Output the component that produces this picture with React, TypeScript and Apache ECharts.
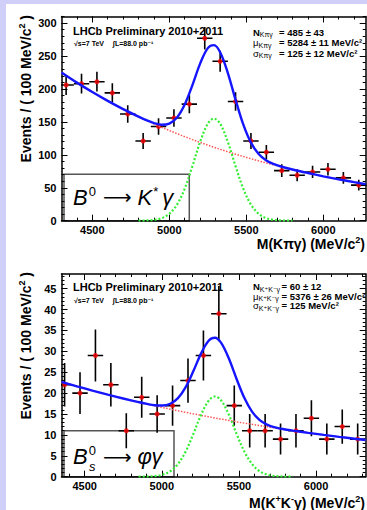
import React, { useEffect, useRef } from 'react';
import * as echarts from 'echarts';

const FF = '"Liberation Sans", Arial, Helvetica, "DejaVu Sans", sans-serif';

// ---------- Top panel: B0 -> K* gamma ----------
const topBinCenters = [4330, 4430, 4530, 4630, 4730, 4830, 4930, 5030, 5130, 5230, 5330, 5430, 5530, 5630, 5730, 5830, 5930, 6030, 6130, 6230];
const topCounts = [206, 208, 211, 194, 162, 121, 143, 156, 177, 277, 242, 181, 121, 104, 76, 69, 74, 78, 65, 54];
const topErrors = [15, 15, 15, 14.5, 13.3, 12, 12.7, 13.2, 14, 17, 16, 14, 12, 10.8, 9.6, 9, 9.3, 9.5, 9, 8.3];
const topCurveX = [4300, 4400, 4500, 4600, 4700, 4800, 4850, 4900, 4950, 5000, 5050, 5100, 5150, 5200, 5250, 5290, 5330, 5380, 5430, 5480, 5530, 5580, 5630, 5680, 5730, 5800, 5900, 6000, 6100, 6200, 6275];
const topBkg = [225, 209.6, 195.3, 181.9, 169.4, 157.8, 152.3, 147.0, 141.9, 137.0, 132.2, 127.6, 123.1, 118.9, 114.7, 111.5, 108.4, 104.6, 101.0, 97.5, 94.1, 90.8, 87.6, 84.6, 81.6, 77.7, 72.4, 67.4, 62.8, 58.5, 55.5];
const topSig = [null, null, null, null, null, 0.1, 0.3, 1.2, 3.8, 10.5, 24.5, 48.8, 82.8, 119.6, 147.3, 155, 147.3, 119.6, 82.8, 48.8, 24.5, 10.5, 3.8, 1.2, 0.3, 0, null, null, null, null, null];
const topTotal = [225, 209.6, 195.3, 181.9, 169.4, 157.9, 152.6, 148.2, 145.7, 147.5, 156.7, 176.4, 205.9, 238.5, 262.0, 266.5, 255.7, 224.2, 183.8, 146.3, 118.6, 101.3, 91.4, 85.8, 81.9, 77.7, 72.4, 67.4, 62.8, 58.5, 55.5];
const topXRange = [4300, 6275];
const topYMax = 310;
const topXMajor = [4500, 5000, 5500, 6000];
const topXMinor = [4400, 4500, 4600, 4700, 4800, 4900, 5000, 5100, 5200, 5300, 5400, 5500, 5600, 5700, 5800, 5900, 6000, 6100, 6200];
const topYMajor = [0, 50, 100, 150, 200, 250, 300];
const topYMinor = [10, 20, 30, 40, 50, 60, 70, 80, 90, 100, 110, 120, 130, 140, 150, 160, 170, 180, 190, 200, 210, 220, 230, 240, 250, 260, 270, 280, 290, 300, 310];

// ---------- Bottom panel: Bs -> phi gamma ----------
const botBinCenters = [4370, 4470, 4570, 4670, 4770, 4870, 4970, 5070, 5170, 5270, 5370, 5470, 5570, 5670, 5770, 5870, 5970, 6070, 6170, 6270];
const botCounts = [22, 20, 29, 22, 11, 19, 15, 17, 23, 29, 39, 17, 11, 11, 9, 11, 14, 9, 12, 9];
const botErrors = [5.2, 5, 6.2, 5.2, 4.2, 4.9, 4.5, 4.8, 5.3, 6, 6.6, 4.8, 4, 4, 3.7, 4, 4.3, 3.7, 4.1, 3.7];
const botCurveX = [4350, 4450, 4550, 4650, 4750, 4850, 4905, 4955, 5005, 5055, 5105, 5155, 5205, 5255, 5305, 5345, 5385, 5435, 5485, 5535, 5585, 5635, 5685, 5735, 5785, 5850, 5950, 6050, 6150, 6250, 6322];
const botBkg = [22.70, 21.63, 20.61, 19.64, 18.72, 17.84, 17.37, 16.96, 16.56, 16.16, 15.77, 15.40, 15.03, 14.68, 14.33, 14.05, 13.78, 13.46, 13.13, 12.82, 12.52, 12.22, 11.93, 11.64, 11.37, 11.02, 10.50, 10.00, 9.53, 9.09, 8.78];
const botSig = [null, null, null, null, null, 0.01, 0.04, 0.15, 0.48, 1.30, 3.04, 6.05, 10.25, 14.82, 18.24, 19.2, 18.24, 14.82, 10.25, 6.05, 3.04, 1.30, 0.48, 0.15, 0.04, 0.01, null, null, null, null, null];
const botTotal = [22.70, 21.63, 20.61, 19.64, 18.72, 17.85, 17.41, 17.11, 17.04, 17.46, 18.81, 21.45, 25.28, 29.50, 32.57, 33.25, 32.02, 28.28, 23.38, 18.87, 15.56, 13.52, 12.41, 11.79, 11.41, 11.03, 10.50, 10.00, 9.53, 9.09, 8.78];
const botXRange = [4350, 6322];
const botYMax = 48.5;
const botXMajor = [4500, 5000, 5500, 6000];
const botXMinor = [4400, 4500, 4600, 4700, 4800, 4900, 5000, 5100, 5200, 5300, 5400, 5500, 5600, 5700, 5800, 5900, 6000, 6100, 6200, 6300];
const botYMajor = [0, 5, 10, 15, 20, 25, 30, 35, 40, 45];
const botYMinor = [1, 2, 3, 4, 5, 6, 7, 8, 9, 10, 11, 12, 13, 14, 15, 16, 17, 18, 19, 20, 21, 22, 23, 24, 25, 26, 27, 28, 29, 30, 31, 32, 33, 34, 35, 36, 37, 38, 39, 40, 41, 42, 43, 44, 45, 46, 47, 48];

const binHalfWidth = 50;

const tok = (fontSize: number, fontWeight = 'bold', fontStyle = 'normal', extra: any = {}) => ({
  fontSize, fontWeight, fontStyle, fontFamily: FF, fill: '#000', ...extra,
});

const labelStyle = (vals: number[], margin: number) => ({
  show: true, customValues: vals, margin, color: '#000', fontSize: 11, fontWeight: 'bold', fontFamily: FF,
  formatter: (v: number) => String(v),
});

function xAxes(grid: number, range: number[], major: number[], minor: number[]) {
  const base: any = { type: 'value', gridIndex: grid, min: range[0], max: range[1], splitLine: { show: false } };
  const line = { show: true, onZero: false, lineStyle: { color: '#000', width: 1.5 } };
  const noLine = { show: false, onZero: false };
  const tk = (vals: number[], len: number) => ({ show: true, inside: true, length: len, customValues: vals, lineStyle: { color: '#000', width: 1 } });
  return [
    { ...base, position: 'bottom', axisLine: line, axisTick: tk(major, 6), axisLabel: labelStyle(major, 4) },
    { ...base, position: 'bottom', axisLine: noLine, axisTick: tk(minor, 3), axisLabel: { show: false } },
    { ...base, position: 'top', axisLine: line, axisTick: tk(major, 6), axisLabel: { show: false } },
    { ...base, position: 'top', axisLine: noLine, axisTick: tk(minor, 3), axisLabel: { show: false } },
  ];
}

function yAxes(grid: number, max: number, major: number[], minor: number[]) {
  const base: any = { type: 'value', gridIndex: grid, min: 0, max, splitLine: { show: false } };
  const line = { show: true, onZero: false, lineStyle: { color: '#000', width: 1.5 } };
  const noLine = { show: false, onZero: false };
  const tk = (vals: number[], len: number) => ({ show: true, inside: true, length: len, customValues: vals, lineStyle: { color: '#000', width: 1 } });
  return [
    { ...base, position: 'left', axisLine: line, axisTick: tk(major, 6), axisLabel: labelStyle(major, 5) },
    { ...base, position: 'left', axisLine: noLine, axisTick: tk(minor, 3), axisLabel: { show: false } },
    { ...base, position: 'right', axisLine: line, axisTick: tk(major, 6), axisLabel: { show: false } },
    { ...base, position: 'right', axisLine: noLine, axisTick: tk(minor, 3), axisLabel: { show: false } },
  ];
}

function curve(axis: number, xs: number[], ys: (number | null)[], color: string, width: number, type: any) {
  return {
    type: 'line', xAxisIndex: axis, yAxisIndex: axis, silent: true, clip: true,
    data: xs.map((x, i) => [x, ys[i]]).filter((p) => p[1] !== null),
    showSymbol: false, symbol: 'none', smooth: 0.35,
    lineStyle: { color, width, type },
  };
}

function errorBars(axis: number, centers: number[], counts: number[], errs: number[]) {
  return {
    type: 'custom', xAxisIndex: axis, yAxisIndex: axis, silent: true, clip: true,
    data: centers.map((c, i) => [c, counts[i], errs[i]]),
    encode: { x: 0, y: 1 },
    renderItem: (_p: any, api: any) => {
      const x = api.value(0), y = api.value(1), e = api.value(2);
      const l = api.coord([x - binHalfWidth, y]);
      const r = api.coord([x + binHalfWidth, y]);
      const t = api.coord([x, y + e]);
      const b = api.coord([x, y - e]);
      const style = { stroke: '#000', lineWidth: 1.6 };
      return {
        type: 'group',
        children: [
          { type: 'line', shape: { x1: l[0], y1: l[1], x2: r[0], y2: r[1] }, style },
          { type: 'line', shape: { x1: t[0], y1: t[1], x2: b[0], y2: b[1] }, style },
        ],
      };
    },
  };
}

function points(axis: number, centers: number[], counts: number[]) {
  return {
    type: 'scatter', xAxisIndex: axis, yAxisIndex: axis, silent: true, clip: true,
    symbol: 'circle', symbolSize: 5, itemStyle: { color: '#ff0000' },
    data: centers.map((c, i) => [c, counts[i]]),
  };
}

function text(x: number, y: number, t: string, rich: any, extra: any = {}) {
  return { type: 'text', x, y, silent: true, style: { text: t, rich, align: 'left', verticalAlign: 'middle', ...extra } };
}

const plain = (x: number, y: number, t: string, size: number, weight = 'bold') =>
  ({ type: 'text', x, y, silent: true, style: { text: t, ...tok(size, weight), align: 'left', verticalAlign: 'middle' } });

const paramRich = {
  m: tok(9.5, 'bold', 'normal', { lineHeight: 12 }),
  g: tok(9.5, 'normal', 'normal', { lineHeight: 12 }),
  s: tok(7, 'normal', 'normal', { lineHeight: 7, verticalAlign: 'bottom' }),
};

const titleRich = {
  t: tok(14, 'bold', 'normal', { lineHeight: 16 }),
  p: tok(9, 'bold', 'normal', { lineHeight: 9, verticalAlign: 'top' }),
};

const decayRich = (size: number) => ({
  b: tok(size, 'normal', 'italic', { lineHeight: size + 3 }),
  sp: tok(13, 'normal', 'normal', { lineHeight: 11, verticalAlign: 'top', padding: [0, 1, 0, 1] }),
  a: { fontSize: size - 2, fontFamily: '"DejaVu Sans", sans-serif', fill: '#000', lineHeight: size + 3, padding: [0, 6, 0, 6] },
  g: tok(size, 'normal', 'italic', { lineHeight: size + 3, padding: [0, 0, 0, 3] }),
});

function graphics() {
  return [
    // Top panel
    { type: 'text', x: 25.5, y: 15, rotation: Math.PI / 2, silent: true,
      style: { text: '{t|Events / ( 100 MeV/c}{p|2}{t| )}', rich: titleRich, align: 'right', verticalAlign: 'middle' } },
    text(365, 243.5, '{t|M(Kπγ) (MeV/c}{p|2}{t|)}', titleRich, { align: 'right' }),
    plain(73, 31, 'LHCb Preliminary 2010+2011', 11),
    plain(74, 43.5, '√s=7 TeV', 7),
    plain(113, 43.5, '∫L=88.0 pb⁻¹', 7),
    text(253, 32, '{m|N}{s|Kπγ}', paramRich),
    plain(279, 32, '= 485 ± 43', 9.5),
    text(253, 42.5, '{g|μ}{s|Kπγ}', paramRich),
    plain(279, 42.5, '= 5284 ± 11 MeV/c²', 9.5),
    text(253, 53, '{g|σ}{s|Kπγ}', paramRich),
    plain(279, 53, '= 125 ± 12 MeV/c²', 9.5),
    { type: 'rect', silent: true, shape: { x: 64, y: 174.3, width: 125.3, height: 46.4 },
      style: { fill: 'none', stroke: '#555', lineWidth: 1.5 } },
    text(73, 197, '{b|B}{sp|0}{a|⟶}{b|K}{sp|*}{g|γ}', decayRich(22)),

    // Bottom panel
    { type: 'text', x: 25.5, y: 272, rotation: Math.PI / 2, silent: true,
      style: { text: '{t|Events / ( 100 MeV/c}{p|2}{t| )}', rich: titleRich, align: 'right', verticalAlign: 'middle' } },
    text(365, 502.5, '{t|M(K}{p|+}{t|K}{p|-}{t|γ) (MeV/c}{p|2}{t|)}', titleRich, { align: 'right' }),
    plain(73, 287, 'LHCb Preliminary 2010+2011', 11),
    plain(74, 300, '√s=7 TeV', 7),
    plain(113, 300, '∫L=88.0 pb⁻¹', 7),
    text(253, 286.5, '{m|N}{s|K⁺K⁻γ}', paramRich),
    plain(281.5, 286.5, '= 60 ± 12', 9.5),
    text(253, 296, '{g|μ}{s|K⁺K⁻γ}', paramRich),
    plain(281.5, 296, '= 5376 ± 26 MeV/c²', 9.5),
    text(253, 305.5, '{g|σ}{s|K⁺K⁻γ}', paramRich),
    plain(281.5, 305.5, '= 125 MeV/c²', 9.5),
    { type: 'rect', silent: true, shape: { x: 64, y: 430.7, width: 110, height: 46 },
      style: { fill: 'none', stroke: '#555', lineWidth: 1.5 } },
    text(73, 456.5, '{b|B}{sp|0}{a|⟶}{b|φγ}', decayRich(22)),
    { type: 'text', x: 89, y: 466, silent: true,
      style: { text: 's', ...tok(13, 'normal', 'italic'), align: 'left', verticalAlign: 'middle' } },
  ];
}

export default function App() {
  const ref = useRef<HTMLDivElement>(null);
  useEffect(() => {
    if (!ref.current) return;
    const chart = echarts.init(ref.current, null, { renderer: 'svg' });
    const option: any = {
      animation: false,
      grid: [
        { left: 61.5, top: 16.5, width: 304.2, height: 204.2, containLabel: false, outerBoundsMode: 'none' },
        { left: 61.5, top: 274, width: 304.2, height: 202.7, containLabel: false, outerBoundsMode: 'none' },
      ],
      xAxis: [...xAxes(0, topXRange, topXMajor, topXMinor), ...xAxes(1, botXRange, botXMajor, botXMinor)],
      yAxis: [...yAxes(0, topYMax, topYMajor, topYMinor), ...yAxes(1, botYMax, botYMajor, botYMinor)],
      series: [
        { ...curve(0, topCurveX, topBkg, '#ff5555', 1.5, [1.5, 1.5]) },
        { ...curve(0, topCurveX, topSig, '#33ee33', 2.2, [2, 2]) },
        { ...curve(0, topCurveX, topTotal, '#1515ff', 2.4, 'solid') },
        errorBars(0, topBinCenters, topCounts, topErrors),
        points(0, topBinCenters, topCounts),
        { ...curve(4, botCurveX, botBkg, '#ff5555', 1.5, [1.5, 1.5]) },
        { ...curve(4, botCurveX, botSig, '#33ee33', 2.2, [2, 2]) },
        { ...curve(4, botCurveX, botTotal, '#1515ff', 2.4, 'solid') },
        errorBars(4, botBinCenters, botCounts, botErrors),
        points(4, botBinCenters, botCounts),
      ],
      graphic: graphics(),
    };
    chart.setOption(option);
    return () => chart.dispose();
  }, []);
  return (
    <div style={{ position: 'absolute', left: 0, top: 0, width: 367, height: 510, background: '#cfcffa', overflow: 'hidden' }}>
      <div style={{ position: 'absolute', left: 6, top: 4, width: 361, height: 506, background: '#ffffff' }} />
      <div ref={ref} style={{ position: 'absolute', left: 0, top: 0, width: 367, height: 510 }} />
    </div>
  );
}
